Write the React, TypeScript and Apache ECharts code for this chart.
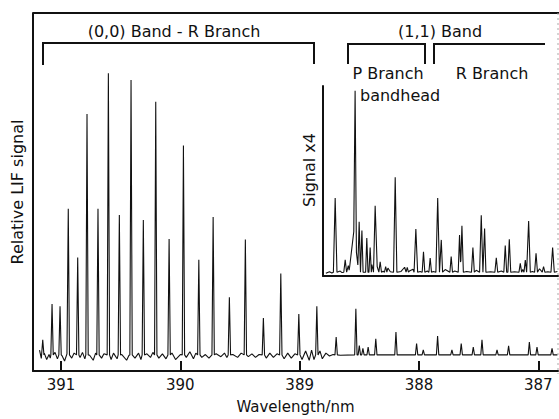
import React, { useEffect, useRef } from "react";
import * as echarts from "echarts";

// Tick labels on the wavelength axis (nm)
const xTicks = [387, 388, 389, 390, 391];

// Main spectrum: (0,0) band lines, wavelength (nm) and height above baseline (relative units, 0-100)
const mainPeakWl = [
  391.153, 391.075, 391.008, 390.939, 390.86, 390.782, 390.69, 390.603, 390.511, 390.413,
  390.31, 390.206, 390.094, 389.974, 389.845, 389.725, 389.589, 389.455, 389.304, 389.158,
  389.007, 388.856, 388.694, 388.529, 388.5, 388.47, 388.426, 388.362, 388.193, 388.02,
  387.964, 387.844, 387.724, 387.646, 387.545, 387.472, 387.346, 387.249, 387.075, 387.011,
  386.885,
];
const mainPeakAmp = [
  4.2, 14.2, 13.6, 40.8, 27.2, 67.3, 40.8, 78.7, 39.1, 76.8,
  37.7, 70.7, 32.4, 58.5, 26.6, 38.5, 16.1, 32.2, 10.3, 22.7,
  11.4, 13.6, 5.0, 12.9, 2.6, 1.8, 2.2, 4.5, 6.4, 3.2,
  1.4, 5.3, 1.4, 3.2, 2.2, 4.2, 1.4, 2.5, 3.6, 2.2,
  1.8,
];
const mainBase = 4.5;
// Baseline noise of the main trace, [wavelength, level]
const mainNoise: [number, number][] = [
  [391.18, 5.8], [391.165, 3.5], [391.14, 5.0], [391.12, 3.2], [391.1, 4.6], [391.09, 3.6],
  [391.05, 5.2], [391.03, 3.4], [390.99, 4.2], [390.97, 2.8], [390.95, 4.8], [390.91, 3.6],
  [390.89, 5.0], [390.84, 3.8], [390.82, 5.2], [390.8, 3.4], [390.76, 4.4], [390.73, 3.0],
  [390.71, 5.0], [390.66, 3.6], [390.64, 4.8], [390.58, 3.2], [390.56, 5.0], [390.53, 3.4],
  [390.49, 4.6], [390.45, 3.0], [390.43, 4.4], [390.38, 3.6], [390.35, 5.0], [390.33, 3.2],
  [390.28, 4.8], [390.25, 3.8], [390.23, 5.2], [390.18, 3.6], [390.15, 4.8], [390.12, 3.4],
  [390.07, 5.0], [390.04, 3.2], [390.0, 4.6], [389.95, 3.8], [389.92, 5.4], [389.89, 3.4],
  [389.87, 5.0], [389.82, 3.8], [389.79, 4.6], [389.76, 3.6], [389.7, 4.8], [389.66, 4.0],
  [389.63, 5.0], [389.61, 3.8], [389.56, 4.6], [389.52, 3.8], [389.49, 5.0], [389.43, 4.0],
  [389.4, 4.8], [389.37, 3.8], [389.34, 4.6], [389.28, 3.6], [389.25, 5.0], [389.22, 3.8],
  [389.19, 4.8], [389.13, 3.4], [389.1, 5.0], [389.07, 3.6], [389.04, 4.8], [388.98, 3.2],
  [388.95, 5.6], [388.92, 3.0], [388.9, 5.8], [388.88, 3.2], [388.83, 5.6], [388.81, 3.4],
  [388.78, 5.0], [388.75, 4.2], [388.72, 4.6], [388.66, 4.4], [386.84, 4.5],
];

// Inset (signal x4): (1,1) band lines
const insetPeakWl = [
  388.702, 388.618, 388.592, 388.535, 388.545, 388.501, 388.478, 388.437, 388.409, 388.367,
  388.325, 388.279, 388.199, 388.098, 388.026, 387.962, 387.906, 387.843, 387.813, 387.73,
  387.66, 387.64, 387.548, 387.478, 387.45, 387.352, 387.277, 387.243, 387.151, 387.109,
  387.081, 387.019, 386.956, 386.88,
];
const insetPeakAmp = [
  39, 6.5, 3.5, 79, 22, 26.6, 22, 18, 13, 35,
  5.5, 3, 50, 2.5, 22.7, 10.8, 7.5, 39, 17, 8.2,
  19.6, 24.5, 13, 30, 23, 7.6, 14, 17.3, 4.7, 6.4,
  27, 10, 3, 13,
];
const insetPeakHw = [
  0.015, 0.012, 0.01, 0.011, 0.04, 0.011, 0.01, 0.01, 0.01, 0.014,
  0.011, 0.01, 0.014, 0.01, 0.015, 0.011, 0.011, 0.015, 0.011, 0.011,
  0.011, 0.012, 0.012, 0.014, 0.011, 0.012, 0.012, 0.012, 0.011, 0.011,
  0.014, 0.012, 0.011, 0.014,
];
const insetBase = 2;
const insetNoise: [number, number][] = [
  [388.78, 1.4], [388.75, 2.2], [388.73, 1.6], [388.66, 2.6], [388.645, 1.8], [388.58, 2.4],
  [388.395, 6], [388.385, 3.5], [388.35, 5], [388.3, 2.5], [388.26, 4.2], [388.24, 2.2],
  [388.15, 2.4], [388.12, 4.6], [388.08, 2.6], [388.05, 3.6], [387.99, 2.4], [387.93, 2.6],
  [387.88, 2.4], [387.78, 3.4], [387.7, 2.6], [387.6, 2.4], [387.52, 3.0], [387.4, 2.2],
  [387.31, 2.6], [387.2, 2.2], [387.13, 3.4], [387.05, 2.4], [386.99, 3.8], [386.92, 2.2],
  [386.84, 2.4],
];

function buildSpectrum(
  wl: number[],
  amp: number[],
  hw: number[] | number,
  noise: [number, number][],
  base: number
): [number, number][] {
  const half = (i: number) => (Array.isArray(hw) ? hw[i] : hw);
  const pts: { x: number; b: number }[] = [];
  noise.forEach(([x, b]) => pts.push({ x, b }));
  wl.forEach((c, i) => {
    const w = half(i);
    [c - w, c, c + w].forEach((x) => {
      if (!noise.some(([nx]) => Math.abs(nx - x) < 0.003)) pts.push({ x, b: base });
    });
  });
  pts.sort((a, b) => b.x - a.x);
  return pts.map(({ x, b }) => {
    let y = b;
    wl.forEach((c, i) => {
      const w = half(i);
      const d = Math.abs(x - c);
      if (d < w) y += amp[i] * (1 - d / w);
    });
    return [x, y];
  });
}

const FONT = "DejaVu Sans";

export default function App() {
  const ref = useRef<HTMLDivElement>(null);
  useEffect(() => {
    if (!ref.current) return;
    const chart = echarts.init(ref.current, undefined, { renderer: "svg" });
    const mainData = buildSpectrum(mainPeakWl, mainPeakAmp, 0.01, mainNoise, mainBase);
    const insetData = buildSpectrum(insetPeakWl, insetPeakAmp, insetPeakHw, insetNoise, insetBase);
    const black = "#111";
    const textStyle = { fontFamily: FONT, color: black };
    const label = (text: string, x: number, y: number, align = "center", rotation = 0) => ({
      type: "text",
      x,
      y,
      rotation,
      style: { text, fontSize: 16, fontFamily: FONT, fill: black, align, verticalAlign: "middle" },
    });
    chart.setOption({
      animation: false,
      backgroundColor: "#fff",
      grid: [
        { left: 33, top: 13, right: 1, bottom: 45 },
        { left: 323, top: 86, right: 1, bottom: 143 },
      ],
      xAxis: [
        {
          type: "value",
          gridIndex: 0,
          min: 386.835,
          max: 391.2346,
          inverse: true,
          axisLine: { onZero: false, lineStyle: { color: black, width: 2 } },
          axisTick: { inside: true, length: 10, customValues: xTicks, lineStyle: { color: black, width: 2 } },
          axisLabel: {
            customValues: xTicks,
            fontSize: 15,
            margin: 6,
            ...textStyle,
            formatter: (v: number) => String(Math.round(v)),
          },
          splitLine: { show: false },
          name: "Wavelength/nm",
          nameLocation: "middle",
          nameGap: 28,
          nameTextStyle: { fontSize: 15, ...textStyle },
        },
        {
          type: "value",
          gridIndex: 1,
          min: 386.835,
          max: 388.804,
          inverse: true,
          axisLine: { onZero: false, lineStyle: { color: black, width: 2 } },
          axisTick: { show: false },
          axisLabel: { show: false },
          splitLine: { show: false },
        },
      ],
      yAxis: [
        {
          type: "value",
          gridIndex: 0,
          min: 0,
          max: 100,
          axisLine: { show: true, onZero: false, lineStyle: { color: black, width: 2 } },
          axisTick: { show: false },
          axisLabel: { show: false },
          splitLine: { show: false },
          name: "Relative LIF signal",
          nameLocation: "middle",
          nameRotate: 90,
          nameGap: 8,
          nameTextStyle: { fontSize: 16, ...textStyle },
        },
        {
          type: "value",
          gridIndex: 1,
          min: 0,
          max: 100,
          axisLine: { show: true, onZero: false, lineStyle: { color: black, width: 2 } },
          axisTick: { show: false },
          axisLabel: { show: false },
          splitLine: { show: false },
        },
      ],
      series: [
        {
          type: "line",
          xAxisIndex: 0,
          yAxisIndex: 0,
          data: mainData,
          showSymbol: false,
          symbol: "none",
          lineStyle: { color: black, width: 1.1 },
        },
        {
          type: "line",
          xAxisIndex: 1,
          yAxisIndex: 1,
          data: insetData,
          showSymbol: false,
          symbol: "none",
          lineStyle: { color: black, width: 1.1 },
        },
      ],
      graphic: [
        { type: "line", shape: { x1: 33, y1: 13, x2: 559, y2: 13 }, style: { stroke: black, lineWidth: 2 } },
        { type: "line", shape: { x1: 558, y1: 13, x2: 558, y2: 374 }, style: { stroke: "#aaa", lineWidth: 1, lineDash: [2, 3] } },
        {
          type: "polyline",
          shape: { points: [[43, 65], [43, 43], [314, 43], [314, 64]] },
          style: { stroke: black, lineWidth: 2, fill: "none" },
        },
        {
          type: "polyline",
          shape: { points: [[348, 64], [348, 44], [425, 44], [425, 64]] },
          style: { stroke: black, lineWidth: 2, fill: "none" },
        },
        {
          type: "polyline",
          shape: { points: [[434, 64], [434, 44], [545, 44]] },
          style: { stroke: black, lineWidth: 2, fill: "none" },
        },
        label("(0,0) Band - R Branch", 174, 31),
        label("(1,1) Band", 440, 31),
        label("P Branch", 388, 73),
        label("R Branch", 492, 73),
        label("bandhead", 360, 95, "left"),
        label("Signal x4", 309, 170, "center", Math.PI / 2),
      ],
    });
    return () => chart.dispose();
  }, []);
  return <div ref={ref} style={{ position: "fixed", left: 0, top: 0, width: 559, height: 419 }} />;
}
